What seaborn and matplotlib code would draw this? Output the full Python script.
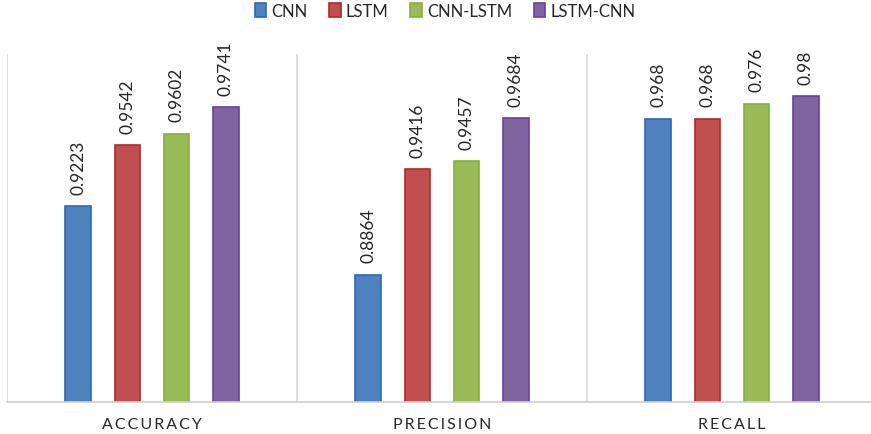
import matplotlib
matplotlib.use("Agg")
import matplotlib.pyplot as plt
import seaborn as sns
import pandas as pd

metrics = ["ACCURACY", "PRECISION", "RECALL"]
models = ["CNN", "LSTM", "CNN-LSTM", "LSTM-CNN"]
cnn = [0.9223, 0.8864, 0.968]
lstm = [0.9542, 0.9416, 0.968]
cnn_lstm = [0.9602, 0.9457, 0.976]
lstm_cnn = [0.9741, 0.9684, 0.98]

fill_colors = ["#4F81BD", "#C0504D", "#9BBB59", "#8064A2"]
edge_colors = ["#2E6AB5", "#B3282B", "#86B03A", "#6A40A0"]

series = [cnn, lstm, cnn_lstm, lstm_cnn]
df = pd.DataFrame(
    [(m, model, vals[i]) for model, vals in zip(models, series) for i, m in enumerate(metrics)],
    columns=["metric", "model", "value"],
)

sns.set_theme(style="white")
plt.rcParams["font.family"] = ["Lato", "DejaVu Sans"]

W, H = 871, 435
fig = plt.figure(figsize=(W / 100, H / 100), dpi=100)
left, right, top, bottom = 7, 877, 55, 402.5
ax = fig.add_axes([left / W, (H - bottom) / H, (right - left) / W, (bottom - top) / H])

sns.barplot(
    data=df, x="metric", y="value", hue="model", order=metrics, hue_order=models,
    palette=fill_colors, width=0.68, gap=0.49, saturation=1, linewidth=1.2, ax=ax,
)

handles, labels = ax.get_legend_handles_labels()
ax.get_legend().remove()

for cont, ec in zip(ax.containers, edge_colors):
    for p in cont:
        p.set_edgecolor(ec)
    ax.bar_label(
        cont, labels=[f"{v:g}" for v in cont.datavalues], rotation=90,
        padding=9, fontsize=12.5, color="#262626",
    )
for h, ec in zip(handles, edge_colors):
    h.set_edgecolor(ec)

ax.set_ylim(0.82, 1.002)
ax.set_xlim(-0.5, 2.5)
for s in ["top", "left", "right"]:
    ax.spines[s].set_visible(False)
ax.spines["bottom"].set_color("#D0D0D0")
ax.spines["bottom"].set_linewidth(1.2)
for xv in [-0.5, 0.5, 1.5, 2.5]:
    ax.axvline(xv, color="#D9D9D9", linewidth=1.2, zorder=0)

ax.set_yticks([])
ax.set_xticks(range(len(metrics)))
ax.set_xticklabels(["\u2009".join(m) for m in metrics], fontsize=11.5, color="#262626")
ax.tick_params(axis="x", length=0, pad=11)
ax.set_xlabel("")
ax.set_ylabel("")

fig.legend(
    handles, labels, loc="center", bbox_to_anchor=(445 / W, 1 - 12 / H), ncol=4,
    frameon=False, fontsize=12, handlelength=0.7, handleheight=0.9,
    handletextpad=0.3, columnspacing=1.3,
)

fig.savefig("out.png", dpi=100)
